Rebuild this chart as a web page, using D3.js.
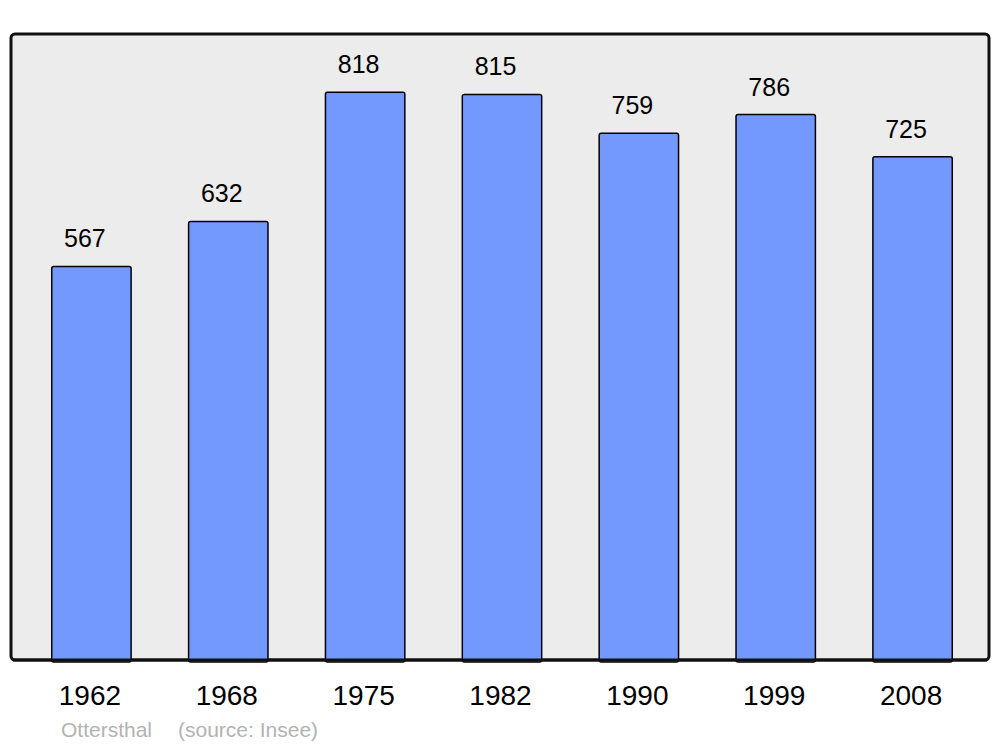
<!DOCTYPE html>
<html>
<head>
<meta charset="utf-8">
<script src="https://cdn.jsdelivr.net/npm/d3@7"></script>
<style>
  body { margin: 0; background: #fff; }
  text { font-family: "Liberation Sans", Arial, sans-serif; }
</style>
</head>
<body>
<div id="chart"></div>
<script>
const years = ["1962", "1968", "1975", "1982", "1990", "1999", "2008"]
const population = [567, 632, 818, 815, 759, 786, 725]
const commune = "Ottersthal"
const source = "(source: Insee)"

const width = 1000, height = 747
const panel = { left: 11, right: 989, top: 34, bottom: 660 }

const x = d3.scaleBand()
    .domain(years)
    .range([23, 981])
    .paddingInner(0.42)
    .paddingOuter(0.21)

const y = d3.scaleLinear()
    .domain([0, 902])
    .range([panel.bottom, panel.top])

const svg = d3.select("#chart")
    .append("svg")
    .attr("width", width)
    .attr("height", height)

// background panel
svg.append("rect")
    .attr("x", panel.left)
    .attr("y", panel.top)
    .attr("width", panel.right - panel.left)
    .attr("height", panel.bottom - panel.top)
    .attr("rx", 4)
    .attr("fill", "#ececec")
    .attr("stroke", "#111")
    .attr("stroke-width", 3)

// bars
svg.append("g")
    .selectAll("rect")
    .data(years)
    .join("rect")
    .attr("x", d => x(d))
    .attr("y", (d, i) => y(population[i]))
    .attr("width", x.bandwidth())
    .attr("height", (d, i) => y(0) - y(population[i]) + 2)
    .attr("rx", 2)
    .attr("fill", "#7399ff")
    .attr("stroke", "#000")
    .attr("stroke-width", 1.5)

// redraw bottom edge of panel over the bars
svg.append("line")
    .attr("x1", panel.left + 2)
    .attr("x2", panel.right - 2)
    .attr("y1", panel.bottom)
    .attr("y2", panel.bottom)
    .attr("stroke", "#111")
    .attr("stroke-width", 3)

// value labels
svg.append("g")
    .selectAll("text")
    .data(years)
    .join("text")
    .attr("x", d => x(d) + x.bandwidth() / 2 - 6.5)
    .attr("y", (d, i) => y(population[i]) - 19)
    .attr("text-anchor", "middle")
    .attr("font-size", 25)
    .attr("fill", "#000")
    .text((d, i) => population[i])

// year labels
svg.append("g")
    .selectAll("text")
    .data(years)
    .join("text")
    .attr("x", d => x(d) + x.bandwidth() / 2 - 1.5)
    .attr("y", 705)
    .attr("text-anchor", "middle")
    .attr("font-size", 28)
    .attr("fill", "#000")
    .text(d => d)

// source line
svg.append("text")
    .attr("x", 61)
    .attr("y", 737)
    .attr("font-size", 21)
    .attr("fill", "#b3b3b3")
    .text(commune)

svg.append("text")
    .attr("x", 178)
    .attr("y", 737)
    .attr("font-size", 21)
    .attr("fill", "#b3b3b3")
    .text(source)
</script>
</body>
</html>
